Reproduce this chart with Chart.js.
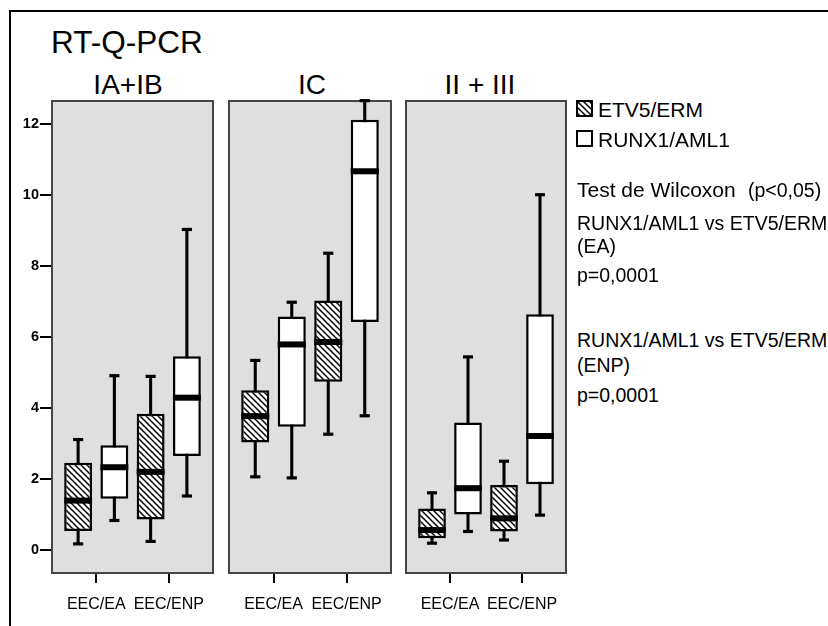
<!DOCTYPE html>
<html><head><meta charset="utf-8">
<script src="https://cdn.jsdelivr.net/npm/chart.js@4.4.0/dist/chart.umd.min.js"></script>
<style>
html,body{margin:0;padding:0;background:#fff;}
#wrap{position:relative;width:828px;height:626px;overflow:hidden;font-family:"Liberation Sans",Arial,sans-serif;color:#000;background:#fff;}
#frame{position:absolute;left:9px;top:10px;width:840px;height:640px;border-top:2px solid #000;border-left:2px solid #000;}
.t{position:absolute;white-space:nowrap;line-height:1;}
.c{text-align:center;width:140px;}
canvas{position:absolute;}
</style></head><body>
<div id="wrap">
<div id="frame"></div>
<div class="t" style="left:51px;top:27px;font-size:31.5px">RT-Q-PCR</div>
<div class="t c" id="pt0" style="left:58px;top:71px;font-size:28px"></div>
<div class="t c" id="pt1" style="left:242px;top:71px;font-size:28px"></div>
<div class="t c" id="pt2" style="left:410px;top:71px;font-size:28px"></div>
<canvas id="lg0" width="17" height="17" style="left:576px;top:100px"></canvas>
<canvas id="lg1" width="17" height="17" style="left:576px;top:130px"></canvas>
<div class="t" id="ln0" style="left:598px;top:99px;font-size:21px"></div>
<div class="t" id="ln1" style="left:598px;top:129px;font-size:21px"></div>
<div class="t" style="left:577px;top:179px;font-size:21px">Test de Wilcoxon</div>
<div class="t" style="left:748px;top:181px;font-size:19.5px">(p&lt;0,05)</div>
<div class="t" style="left:577px;top:214px;font-size:19.5px">RUNX1/AML1 vs ETV5/ERM</div>
<div class="t" style="left:577px;top:237px;font-size:19.5px">(EA)</div>
<div class="t" style="left:577px;top:266px;font-size:19.5px">p=0,0001</div>
<div class="t" style="left:577px;top:331px;font-size:19.5px">RUNX1/AML1 vs ETV5/ERM</div>
<div class="t" style="left:577px;top:356px;font-size:19.5px">(ENP)</div>
<div class="t" style="left:577px;top:386px;font-size:19.5px">p=0,0001</div>
<canvas id="c0" width="216" height="536" style="left:0px;top:90px"></canvas>
<canvas id="c1" width="168" height="536" style="left:226px;top:90px"></canvas>
<canvas id="c2" width="166" height="536" style="left:403px;top:90px"></canvas>
</div>
<script>
// ---- data ----
const categories = ['EEC/EA', 'EEC/ENP'];
const panelTitles = ['IA+IB', 'IC', 'II + III'];
const seriesNames = ['ETV5/ERM', 'RUNX1/AML1'];
const yTickValues = [0, 2, 4, 6, 8, 10, 12];
// each entry: one panel, [EEC/EA, EEC/ENP]
const etvMin    = [[0.17, 0.24], [2.06, 3.26], [0.19, 0.28]];
const etvQ1     = [[0.53, 0.86], [3.03, 4.74], [0.33, 0.52]];
const etvMedian = [[1.39, 2.20], [3.77, 5.86], [0.56, 0.89]];
const etvQ3     = [[2.46, 3.84], [4.50, 7.03], [1.17, 1.83]];
const etvMax    = [[3.11, 4.89], [5.34, 8.36], [1.61, 2.50]];
const runxMin    = [[0.83, 1.52], [2.03, 3.78], [0.52, 0.98]];
const runxQ1     = [[1.44, 2.65], [3.47, 6.42], [1.00, 1.85]];
const runxMedian = [[2.33, 4.29], [5.79, 10.67], [1.74, 3.21]];
const runxQ3     = [[2.95, 5.46], [6.58, 12.12], [3.59, 6.64]];
const runxMax    = [[4.91, 9.03], [6.98, 12.66], [5.44, 10.01]];

// ---- style ----
const FONT = '"Liberation Sans", Arial, sans-serif';
const INSET = 8;
const HALF_MED = 0.085, HALF_CAP = 0.045;

function hatchTile() {
  const s = 6;
  const c = document.createElement('canvas'); c.width = s; c.height = s;
  const g = c.getContext('2d');
  g.fillStyle = '#fff'; g.fillRect(0, 0, s, s);
  g.strokeStyle = '#000'; g.lineWidth = 1.5;
  g.beginPath();
  g.moveTo(-1, -1); g.lineTo(s + 1, s + 1);
  g.moveTo(-1, s - 1); g.lineTo(1, s + 1);
  g.moveTo(s - 1, -1); g.lineTo(s + 1, 1);
  g.stroke();
  return c;
}
const tile = hatchTile();

document.getElementById('ln0').textContent = seriesNames[0];
document.getElementById('ln1').textContent = seriesNames[1];
panelTitles.forEach((t, i) => document.getElementById('pt' + i).textContent = t);

// legend swatches
[0, 1].forEach(i => {
  const cv = document.getElementById('lg' + i), g = cv.getContext('2d');
  g.fillStyle = i === 0 ? g.createPattern(tile, 'repeat') : '#fff';
  g.fillRect(0, 0, 17, 17);
  g.strokeStyle = '#000'; g.lineWidth = 2;
  g.strokeRect(1, 1, 15, 15);
});

const panelPlugin = {
  id: 'panel',
  beforeDatasetsDraw(chart) {
    const {ctx, chartArea: a} = chart;
    ctx.save();
    ctx.fillStyle = '#dfdfdf';
    ctx.fillRect(a.left - INSET, a.top, a.width + 2 * INSET, a.height);
    ctx.strokeStyle = '#454545'; ctx.lineWidth = 2;
    ctx.strokeRect(a.left - INSET, a.top, a.width + 2 * INSET, a.height);
    ctx.restore();
  }
};

function seriesDatasets(p, stack, mins, q1s, meds, q3s, maxs, fill) {
  const ix = categories.map((_, i) => i);
  const common = {stack, categoryPercentage: 1.0, clip: false, borderSkipped: false, inflateAmount: 0};
  return [
    Object.assign({label: stack + ' max', order: 1, barPercentage: 0.28, backgroundColor: '#000',
      data: ix.map(i => [maxs[p][i] - HALF_CAP, maxs[p][i] + HALF_CAP])}, common),
    Object.assign({label: stack + ' min', order: 1, barPercentage: 0.28, backgroundColor: '#000',
      data: ix.map(i => [mins[p][i] - HALF_CAP, mins[p][i] + HALF_CAP])}, common),
    Object.assign({label: stack + ' median', order: 2, barPercentage: 0.77, backgroundColor: '#000',
      data: ix.map(i => [meds[p][i] - HALF_MED, meds[p][i] + HALF_MED])}, common),
    Object.assign({label: stack, order: 3, barPercentage: 0.77, backgroundColor: fill,
      borderColor: '#000', borderWidth: 2.5,
      data: ix.map(i => [q1s[p][i], q3s[p][i]])}, common),
    Object.assign({label: stack + ' whisker', order: 4, barPercentage: 0.085, backgroundColor: '#000',
      data: ix.map(i => [mins[p][i], maxs[p][i]])}, common)
  ];
}

[0, 1, 2].forEach(p => {
  const cv = document.getElementById('c' + p);
  const ctx = cv.getContext('2d');
  const hatch = ctx.createPattern(tile, 'repeat');
  const datasets = [].concat(
    seriesDatasets(p, seriesNames[0], etvMin, etvQ1, etvMedian, etvQ3, etvMax, hatch),
    seriesDatasets(p, seriesNames[1], runxMin, runxQ1, runxMedian, runxQ3, runxMax, '#fff')
  );
  new Chart(ctx, {
    type: 'bar',
    data: {labels: categories, datasets},
    options: {
      responsive: false, animation: false, devicePixelRatio: 1,
      layout: {padding: {top: 11, bottom: 0, left: p === 0 ? 0 : 11, right: 11}},
      plugins: {legend: {display: false}, tooltip: {enabled: false}, title: {display: false}},
      scales: {
        x: {
          type: 'category', offset: true,
          grid: {display: true, drawOnChartArea: false, drawTicks: true, tickLength: 10, lineWidth: 2, color: '#000', offset: false},
          border: {display: false},
          ticks: {color: '#000', font: {family: FONT, size: 16}, padding: 12, maxRotation: 0, autoSkip: false},
          afterFit(s) { s.height = 53; s.paddingLeft = 0; s.paddingRight = 0; }
        },
        y: {
          display: p === 0, stacked: false, min: -0.65, max: 12.65,
          afterBuildTicks(s) { s.ticks = yTickValues.map(v => ({value: v})); },
          afterFit(s) { s.width = p === 0 ? 60 : 0; s.paddingTop = 0; s.paddingBottom = 0; },
          grid: {drawOnChartArea: false, drawTicks: true, tickLength: 20, lineWidth: 2, color: '#000'},
          border: {display: false},
          ticks: {color: '#000', font: {family: FONT, size: 14.5, weight: 'bold'}, padding: 1}
        }
      }
    },
    plugins: [panelPlugin]
  });
});
</script>
</body></html>
